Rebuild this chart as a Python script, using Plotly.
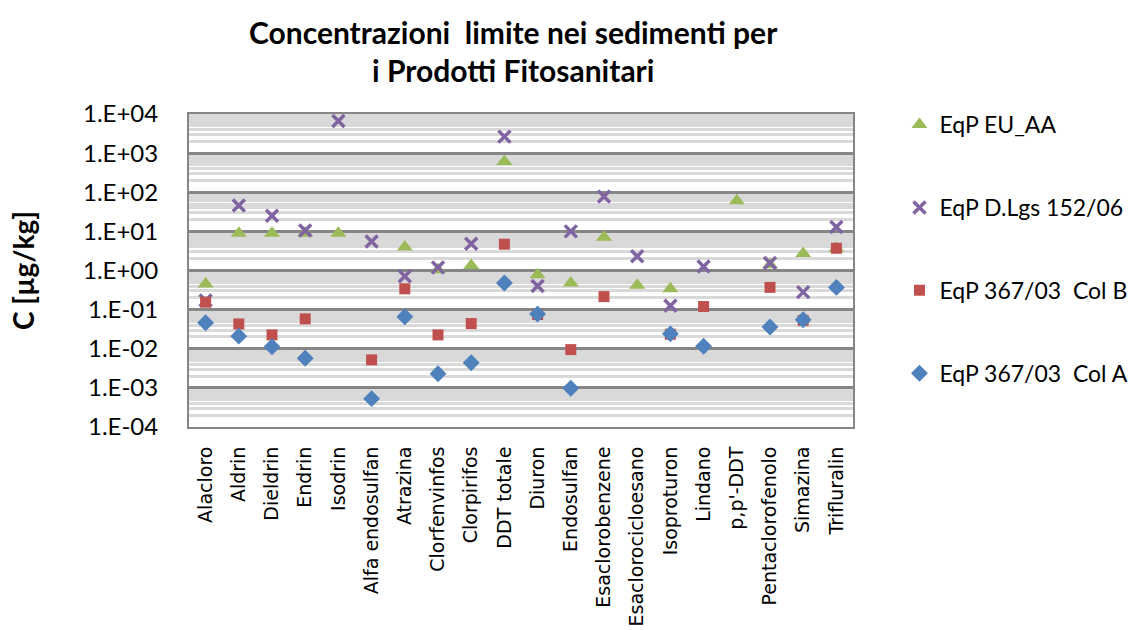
import plotly.graph_objects as go

categories = ["Alacloro", "Aldrin", "Dieldrin", "Endrin", "Isodrin", "Alfa endosulfan",
              "Atrazina", "Clorfenvinfos", "Clorpirifos", "DDT totale", "Diuron",
              "Endosulfan", "Esaclorobenzene", "Esaclorocicloesano", "Isoproturon",
              "Lindano", "p,p'-DDT", "Pentaclorofenolo", "Simazina", "Trifluralin"]

eqp_eu_aa = [0.45, 9, 9, 9, 9, None, 4.0, 1.05, 1.35, 610, 0.78, 0.48, 7.1, 0.42, 0.34,
             None, 61, 1.4, 2.7, 3.7]
eqp_dlgs = [0.17, 46, 25, 10.5, 6600, 5.5, 0.71, 1.2, 4.8, 2640, 0.40, 10, 78, 2.3, 0.126,
            1.27, None, 1.55, 0.28, 13]
eqp_colb = [0.155, 0.043, 0.0226, 0.058, None, 0.0052, 0.34, 0.0226, 0.044, 4.7, 0.075,
            0.0095, 0.215, None, 0.0235, 0.12, None, 0.37, 0.053, 3.7]
eqp_cola = [0.046, 0.021, 0.0112, 0.0057, None, 0.00053, 0.066, 0.0023, 0.0044, 0.48, 0.077,
            0.00098, None, None, 0.024, 0.0116, None, 0.036, 0.055, 0.37]

series_names = ["EqP EU_AA", "EqP D.Lgs 152/06", "EqP 367/03  Col B", "EqP 367/03  Col A"]
tick_vals = [1e-4, 1e-3, 1e-2, 1e-1, 1, 10, 100, 1000, 10000]
tick_text = ["1.E-04", "1.E-03", "1.E-02", "1.E-01", "1.E+00", "1.E+01", "1.E+02", "1.E+03", "1.E+04"]
title_lines = ["Concentrazioni  limite nei sedimenti per", "i Prodotti Fitosanitari"]

FONT = "Lato"
fig = go.Figure()

styles = [
    dict(symbol="triangle-up", size=14, color="#9bbb59", line=dict(width=0)),
    dict(symbol="x-thin-open", size=12, color="#8064a2", line=dict(width=3.5, color="#8064a2")),
    dict(symbol="square", size=11, color="#c0504d", line=dict(width=0)),
    dict(symbol="diamond", size=13, color="#4f81bd", line=dict(width=0)),
]
data = [eqp_eu_aa, eqp_dlgs, eqp_colb, eqp_cola]

for i, (name, vals, st) in enumerate(zip(series_names, data, styles)):
    fig.add_trace(go.Scatter(
        x=categories, y=vals, mode="markers", name=name,
        marker=st, legendgroup=f"g{i}", cliponaxis=False,
    ))

fig.update_layout(
    width=1143, height=630,
    paper_bgcolor="white", plot_bgcolor="white",
    margin=dict(l=189, r=290, t=114, b=203, autoexpand=False),
    font=dict(family=FONT, color="black"),
    showlegend=True,
    legend=dict(
        x=1.07, y=1.035, xanchor="left", yanchor="top",
        font=dict(family=FONT, size=23, color="black"),
        tracegroupgap=50, itemsizing="trace",
        bgcolor="rgba(0,0,0,0)",
    ),
)

# title as two centred lines
for line, ypx in zip(title_lines, [32, 70]):
    fig.add_annotation(
        text=f"<b>{line}</b>", xref="paper", yref="paper",
        x=(513 - 189) / 664, y=1 + (114 - ypx) / 313,
        xanchor="center", yanchor="middle", showarrow=False,
        font=dict(family=FONT, size=30, color="black"),
    )

fig.update_xaxes(
    type="category", categoryorder="array", categoryarray=categories,
    tickangle=-90, tickfont=dict(family="DejaVu Sans", size=19, color="black"),
    showgrid=False, showline=True, linecolor="#868686", linewidth=2, mirror=True,
    ticks="", ticklabelstandoff=10, range=[-0.5, 19.5],
)

fig.update_yaxes(
    type="log", range=[-4, 4],
    tickvals=tick_vals, ticktext=tick_text,
    tickfont=dict(family=FONT, size=24, color="black"),
    showgrid=True, gridcolor="#868686", gridwidth=2.5,
    minor=dict(dtick="D1", showgrid=True, gridcolor="#d9d9d9", gridwidth=2.5, ticks=""),
    showline=True, linecolor="#868686", linewidth=2, mirror=True,
    ticks="", ticklabelstandoff=24,
    title=dict(text="<b>C [µg/kg]</b>", font=dict(family=FONT, size=28, color="black"), standoff=40),
    zeroline=False,
)

fig.write_html("out.html", config={"displayModeBar": False},
               post_script="document.body.style.margin='0';")
